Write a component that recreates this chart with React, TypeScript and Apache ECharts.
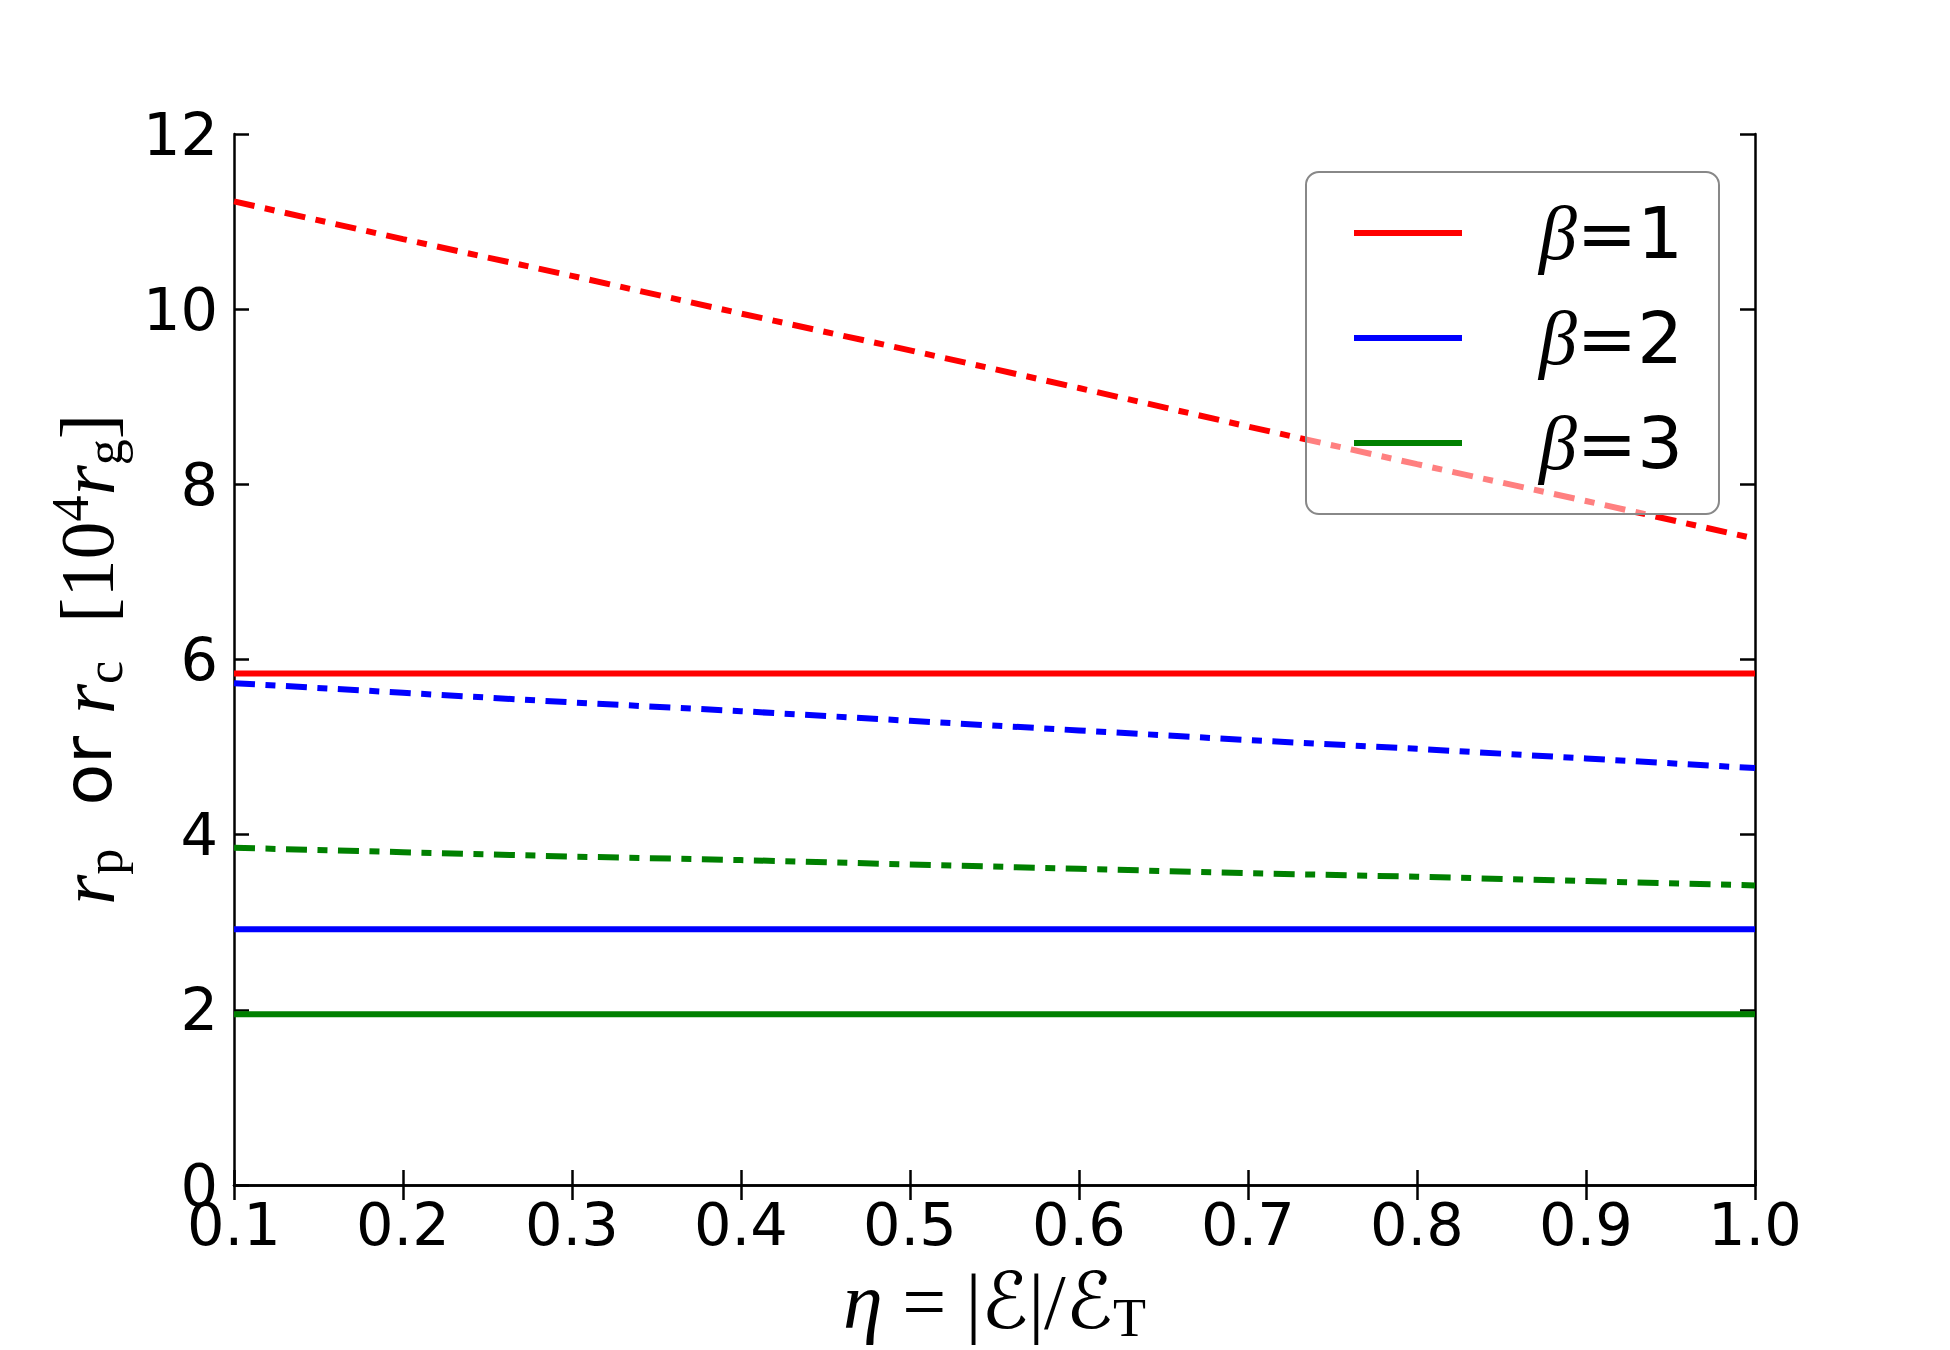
import React, { useEffect, useRef } from "react";
import * as echarts from "echarts";

const ETA = [0.1, 0.2, 0.3, 0.4, 0.5, 0.6, 0.7, 0.8, 0.9, 1.0];
// r_c (dash-dot) per beta
const RC_B1 = [11.23, 10.8, 10.38, 9.95, 9.53, 9.1, 8.66, 8.23, 7.81, 7.38];
const RC_B2 = [5.73, 5.62, 5.51, 5.41, 5.3, 5.19, 5.08, 4.98, 4.87, 4.76];
const RC_B3 = [3.85, 3.8, 3.75, 3.71, 3.66, 3.61, 3.56, 3.52, 3.47, 3.42];
// r_p (solid) per beta
const RP_B1 = [5.84, 5.84, 5.84, 5.84, 5.84, 5.84, 5.84, 5.84, 5.84, 5.84];
const RP_B2 = [2.92, 2.92, 2.92, 2.92, 2.92, 2.92, 2.92, 2.92, 2.92, 2.92];
const RP_B3 = [1.95, 1.95, 1.95, 1.95, 1.95, 1.95, 1.95, 1.95, 1.95, 1.95];
const LEGEND_NAMES = ["β=1", "β=2", "β=3"];
const COLORS = ["#ff0000", "#0000ff", "#008000"];
const Y_TICKS = { min: 0, max: 12, interval: 2 };
const X_TICKS = { min: 0.1, max: 1.0, interval: 0.1 };

const pairs = (ys: number[]) => ETA.map((x, i) => [x, ys[i]]);

export default function App() {
  const ref = useRef<HTMLDivElement>(null);
  useEffect(() => {
    if (!ref.current) return;
    const chart = echarts.init(ref.current, undefined, { renderer: "svg" });
    const sans = "DejaVu Sans";
    const serif = "'Liberation Serif', 'DejaVu Serif', serif";
    const axisLine = { show: true, lineStyle: { color: "#000", width: 2.5 } };
    const axisTick = { show: true, inside: true, length: 15, lineStyle: { color: "#000", width: 2.5 } };
    const dashDot = [21, 10.5, 10, 10.5];
    const solid = (name: string, ys: number[], c: string) => ({
      type: "line", name, data: pairs(ys), symbol: "none", showSymbol: false,
      lineStyle: { color: c, width: 6, type: "solid" }, itemStyle: { color: c }, z: 3,
    });
    const dd = (name: string, ys: number[], c: string) => ({
      type: "line", name, data: pairs(ys), symbol: "none", showSymbol: false,
      lineStyle: { color: c, width: 6, type: dashDot, cap: "butt" }, itemStyle: { color: c }, z: 3,
    });
    const yRich = {
      it: { fontFamily: serif, fontStyle: "italic", fontSize: 78, lineHeight: 86, color: "#000" },
      rm: { fontFamily: serif, fontSize: 76, lineHeight: 86, color: "#000" },
      sans: { fontFamily: sans, fontSize: 68, lineHeight: 86, color: "#000" },
      sub: { fontFamily: serif, fontSize: 52, lineHeight: 50, verticalAlign: "bottom", color: "#000" },
      sup: { fontFamily: serif, fontSize: 52, lineHeight: 50, verticalAlign: "top", color: "#000" },
    };
    const xRich = {
      it: { fontFamily: serif, fontStyle: "italic", fontSize: 80, lineHeight: 88, color: "#000" },
      rm: { fontFamily: serif, fontSize: 78, lineHeight: 88, color: "#000" },
      cal: { fontFamily: "'DejaVu Serif', 'DejaVu Sans'", fontStyle: "italic", fontSize: 78, lineHeight: 88, color: "#000" },
      sub: { fontFamily: serif, fontSize: 54, lineHeight: 52, verticalAlign: "bottom", color: "#000" },
    };
    chart.setOption({
      animation: false,
      backgroundColor: "#ffffff",
      grid: { left: 234, top: 134, right: 195, bottom: 162, containLabel: false },
      xAxis: [
        {
          type: "value", ...X_TICKS, position: "bottom",
          axisLine, axisTick, splitLine: { show: false },
          axisLabel: {
            show: true, fontFamily: sans, fontSize: 59, color: "#000", margin: 10,
            showMinLabel: true, showMaxLabel: true,
            formatter: (v: number) => v.toFixed(1),
          },
          name: "{it|η}{rm| = |}{cal|ℰ}{rm||/}{cal|ℰ}{sub|T}",
          nameLocation: "middle", nameGap: 72,
          nameTextStyle: { rich: xRich },
        },
        {
          type: "value", ...X_TICKS, position: "top",
          axisLine, axisTick, splitLine: { show: false }, axisLabel: { show: false },
        },
      ],
      yAxis: [
        {
          type: "value", ...Y_TICKS, position: "left",
          axisLine, axisTick, splitLine: { show: false },
          axisLabel: {
            show: true, fontFamily: sans, fontSize: 59, color: "#000", margin: 16,
            showMinLabel: true, showMaxLabel: true,
          },
          name: "{it|r}{sub|p}{sans|  or }{it|r}{sub|c}{rm|  [10}{sup|4}{it|r}{sub|g}{rm|]}",
          nameLocation: "middle", nameGap: 104, nameRotate: 90,
          nameTextStyle: { rich: yRich },
        },
        {
          type: "value", ...Y_TICKS, position: "right",
          axisLine, axisTick, splitLine: { show: false }, axisLabel: { show: false },
        },
      ],
      legend: {
        data: LEGEND_NAMES, orient: "vertical", left: 1306, top: 172,
        padding: [23, 36, 33, 48], itemGap: 29, itemWidth: 108, itemHeight: 6,
        icon: "rect", backgroundColor: "rgba(255,255,255,0.5)",
        borderColor: "#888", borderWidth: 2, borderRadius: 13, z: 10,
        selectedMode: false,
        formatter: (name: string) => `{b|β}{n|${name.slice(1)}}`,
        textStyle: {
          rich: {
            b: { fontFamily: serif, fontStyle: "italic", fontSize: 76, lineHeight: 70, padding: [0, 0, 0, 72], color: "#000" },
            n: { fontFamily: sans, fontSize: 72, lineHeight: 70, color: "#000" },
          },
        },
      },
      series: [
        solid(LEGEND_NAMES[0], RP_B1, COLORS[0]),
        dd("rc1", RC_B1, COLORS[0]),
        solid(LEGEND_NAMES[1], RP_B2, COLORS[1]),
        dd("rc2", RC_B2, COLORS[1]),
        solid(LEGEND_NAMES[2], RP_B3, COLORS[2]),
        dd("rc3", RC_B3, COLORS[2]),
      ],
    });
    return () => chart.dispose();
  }, []);
  return (
    <div
      ref={ref}
      style={{ position: "fixed", left: 0, top: 0, width: 1950, height: 1350, background: "#fff" }}
    />
  );
}
